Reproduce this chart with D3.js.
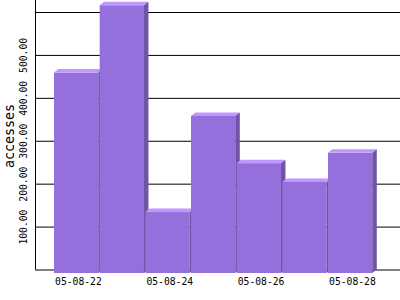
<!DOCTYPE html>
<html lang="en">
<head>
    <meta charset="UTF-8">
    <title>accesses per day</title>
    <script src="https://d3js.org/d3.v7.min.js"></script>
    <style>
        body { margin: 0; background: #fff; }
        svg { display: block; }
        text { font-family: "DejaVu Sans Mono", monospace; fill: #000; }
    </style>
</head>
<body>
    <svg id="chart"></svg>

    <script>
        // data
        const days = ["05-08-22", "05-08-23", "05-08-24", "05-08-25", "05-08-26", "05-08-27", "05-08-28"];
        const accesses = [467, 624, 142, 366, 256, 212, 280];
        const yTicks = [0, 100, 200, 300, 400, 500, 600];
        const labelledTicks = [100, 200, 300, 400, 500];
        const labelledDays = ["05-08-22", "05-08-24", "05-08-26", "05-08-28"];

        const width = 400, height = 300;
        const plotLeft = 35, plotRight = 400, plotBase = 269.5, plotTop = 12;
        const dx = 4.5, dy = 3.5; // 3d depth

        const svg = d3.select("#chart")
            .attr("width", width)
            .attr("height", height);

        const y = d3.scaleLinear().domain([0, 600]).range([plotBase, plotTop]);

        const x = d3.scaleBand()
            .domain(days)
            .range([54, 372.3])
            .paddingInner(0.03)
            .paddingOuter(0);

        // grid lines + rotated labels
        const yAxis = svg.append("g")
            .attr("transform", `translate(${plotLeft},0)`)
            .call(d3.axisLeft(y)
                .tickValues(yTicks)
                .tickSize(-(plotRight - plotLeft))
                .tickFormat(d => labelledTicks.includes(d) ? d3.format(".2f")(d) : ""));

        yAxis.select(".domain").remove();
        yAxis.selectAll(".tick line").attr("stroke", "#000");
        yAxis.selectAll(".tick text")
            .attr("x", null)
            .attr("dy", null)
            .attr("text-anchor", "middle")
            .attr("transform", "translate(-8,0) rotate(-90)")
            .style("font-size", "9.7px")
            .style("font-family", "'DejaVu Sans Mono', monospace");

        svg.append("line")
            .attr("x1", plotLeft + 0.5).attr("x2", plotLeft + 0.5)
            .attr("y1", 0).attr("y2", plotBase)
            .attr("stroke", "#000");

        svg.append("text")
            .attr("transform", "translate(13.5,136) rotate(-90)")
            .attr("text-anchor", "middle")
            .style("font-size", "13.3px")
            .text("accesses");

        // bars, left to right so each one hides the side of the previous
        const bars = svg.append("g")
            .selectAll("g")
            .data(days.map((d, i) => ({ day: d, value: accesses[i] })))
            .join("g");

        const bw = x.bandwidth();

        bars.append("rect")
            .attr("x", d => x(d.day))
            .attr("y", d => y(d.value) + dy)
            .attr("width", bw)
            .attr("height", d => plotBase - y(d.value))
            .attr("fill", "#9370db");

        bars.append("polygon")
            .attr("points", d => {
                const x0 = x(d.day), yf = y(d.value) + dy;
                return [[x0, yf], [x0 + dx, yf - dy], [x0 + bw + dx, yf - dy], [x0 + bw, yf]].join(" ");
            })
            .attr("fill", "#c096ff");

        bars.append("polygon")
            .attr("points", d => {
                const x1 = x(d.day) + bw, yf = y(d.value) + dy;
                return [[x1, yf], [x1 + dx, yf - dy], [x1 + dx, plotBase], [x1, plotBase + dy]].join(" ");
            })
            .attr("fill", "#6f55a6");

        // x labels, every other day
        svg.append("g")
            .selectAll("text")
            .data(labelledDays)
            .join("text")
            .attr("x", d => x(d) + bw / 2 + dx / 2)
            .attr("y", 284.5)
            .attr("text-anchor", "middle")
            .style("font-size", "9.7px")
            .text(d => d);
    </script>
</body>
</html>
